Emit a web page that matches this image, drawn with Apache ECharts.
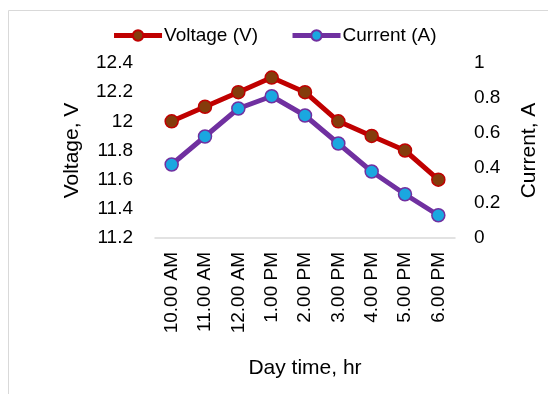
<!DOCTYPE html>
<html>
<head>
<meta charset="utf-8">
<script src="https://cdn.jsdelivr.net/npm/echarts@6/dist/echarts.min.js"></script>
<style>
  html, body { margin: 0; padding: 0; background: #fff; }
  #chart { width: 548px; height: 394px; }
</style>
</head>
<body>
<div id="chart"></div>
<script>
'use strict';

// 数据
var hours = ['10.00 AM', '11.00 AM', '12.00 AM', '1.00 PM', '2.00 PM', '3.00 PM', '4.00 PM', '5.00 PM', '6.00 PM'];
var voltage = [12.0, 12.1, 12.2, 12.3, 12.2, 12.0, 11.9, 11.8, 11.6];
var current = [0.42, 0.58, 0.74, 0.81, 0.70, 0.54, 0.38, 0.25, 0.13];

var FONT = 'Liberation Sans';

var myChart = echarts.init(document.getElementById('chart'));
var option = {
    animation: false,
    textStyle: { fontFamily: FONT },
    graphic: [{
        type: 'rect',
        shape: { x: 8.5, y: 10.5, width: 600, height: 400 },
        style: { fill: 'none', stroke: '#d9d9d9', lineWidth: 1 }
    }],
    legend: {
        top: 21,
        left: 'center',
        itemWidth: 48,
        itemHeight: 13,
        itemGap: 32,
        lineStyle: { width: 5 },
        textStyle: { fontFamily: FONT, fontSize: 19, color: '#000', padding: [0, 0, 0, -3] },
        data: ['Voltage (V)', 'Current (A)']
    },
    grid: { left: 155, right: 84, top: 63, bottom: 156 },
    xAxis: {
        type: 'category',
        data: hours,
        boundaryGap: true,
        axisLine: { lineStyle: { color: '#d9d9d9', width: 1.5 } },
        axisTick: { show: false },
        axisLabel: { rotate: 90, fontSize: 19, color: '#000', margin: 14, fontFamily: FONT },
        name: 'Day time, hr',
        nameLocation: 'middle',
        nameGap: 120,
        nameTextStyle: { fontSize: 21, color: '#000', fontFamily: FONT }
    },
    yAxis: [{
        type: 'value',
        min: 11.2,
        max: 12.4,
        interval: 0.2,
        splitLine: { show: false },
        axisLine: { show: false },
        axisTick: { show: false },
        axisLabel: { fontSize: 19, color: '#000', margin: 22, fontFamily: FONT,
            formatter: function(v) { return String(Math.round(v * 10) / 10); } },
        name: 'Voltage, V',
        nameLocation: 'middle',
        nameGap: 72,
        nameTextStyle: { fontSize: 21, color: '#000', fontFamily: FONT }
    }, {
        type: 'value',
        min: 0,
        max: 1,
        interval: 0.2,
        splitLine: { show: false },
        axisLine: { show: false },
        axisTick: { show: false },
        axisLabel: { fontSize: 19, color: '#000', margin: 19, fontFamily: FONT,
            formatter: function(v) { return String(Math.round(v * 10) / 10); } },
        name: 'Current, A',
        nameLocation: 'middle',
        nameGap: 64,
        nameRotate: 90,
        nameTextStyle: { fontSize: 21, color: '#000', fontFamily: FONT }
    }],
    series: [{
        name: 'Voltage (V)',
        type: 'line',
        yAxisIndex: 0,
        data: voltage,
        symbol: 'circle',
        symbolSize: 13,
        lineStyle: { color: '#C00000', width: 5 },
        itemStyle: { color: '#843C0C', borderColor: '#C00000', borderWidth: 1.5 }
    }, {
        name: 'Current (A)',
        type: 'line',
        yAxisIndex: 1,
        data: current,
        symbol: 'circle',
        symbolSize: 13,
        lineStyle: { color: '#7030A0', width: 5 },
        itemStyle: { color: '#1AA7E0', borderColor: '#7030A0', borderWidth: 1.5 }
    }]
};
myChart.setOption(option);
</script>
</body>
</html>
